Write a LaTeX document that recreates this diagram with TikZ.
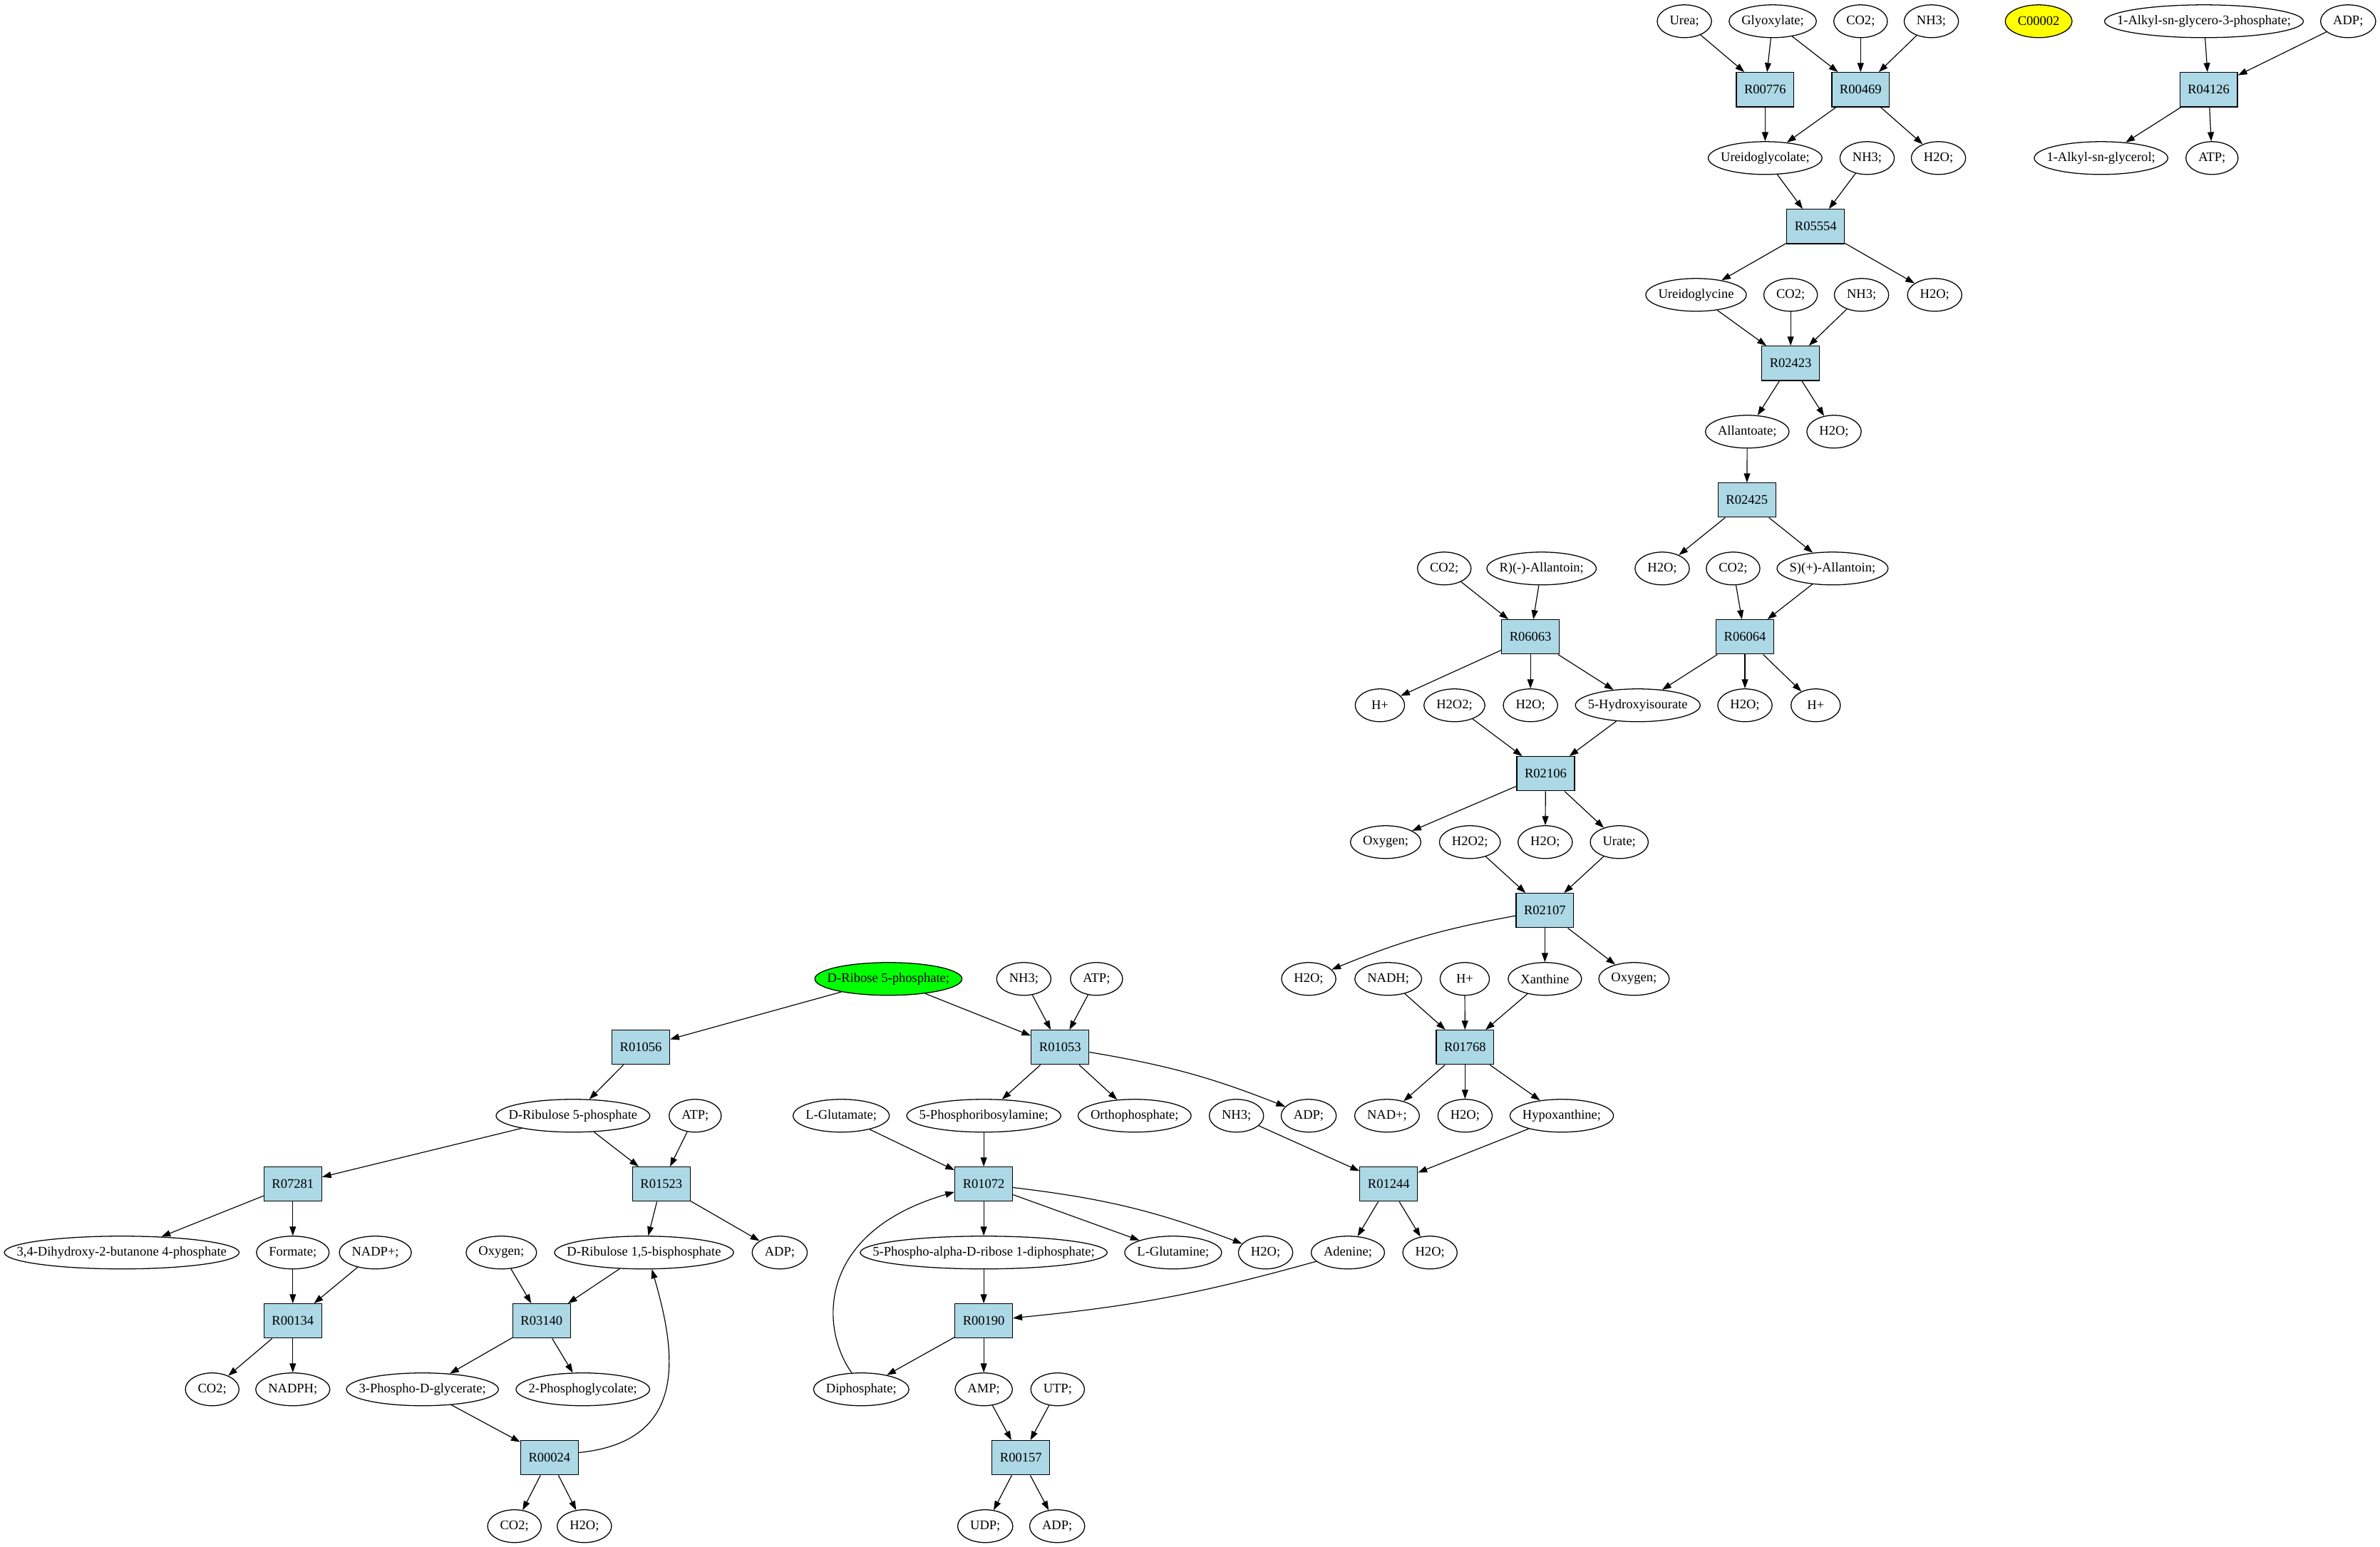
\documentclass[tikz,border=0pt]{standalone}
\usepackage{fontspec}
\setmainfont{Liberation Serif}
\usetikzlibrary{arrows.meta,shapes.geometric}
\definecolor{rxnblue}{HTML}{ADD8E6}
\definecolor{cpdgreen}{HTML}{00FF00}
\definecolor{cpdyellow}{HTML}{FFFF00}
\newcommand\metfont{\fontsize{8.7pt}{10pt}\selectfont}
% compound label: box narrowed by 1/sqrt(2) so that the ellipse hugs the text
\newcommand\cpdtxt[1]{\makebox[0.7071\width]{#1}}
\newcommand\metnode[4][]{\node[cpd,#1] (#2) at (#3) {\cpdtxt{#4}};}
\newcommand\rxn[2]{\node[rxnbox] (#1) at (#2) {#1};}
\begin{document}
\begin{tikzpicture}[x=1pt,y=-1pt,
 cpd/.style={ellipse,draw,line width=0.6pt,inner xsep=5.83pt,inner ysep=0pt,minimum width=32.5pt,minimum height=21.6pt,font=\metfont},
 rxnbox/.style={rectangle,draw,fill=rxnblue,line width=0.6pt,inner sep=0pt,minimum width=38pt,minimum height=22.6pt,font=\metfont},
 conn/.style={line width=0.55pt,-{Triangle[length=6pt,width=4.2pt]}}]
\useasboundingbox (0,0) rectangle (1568,1019.5);
% rank 0
\metnode{urea}{1109.7,14}{Urea;}
\metnode{glyox}{1167.9,14}{Glyoxylate;}
\metnode{co2a}{1225.8,14}{CO2;}
\metnode{nh3a}{1272.4,14}{NH3;}
\metnode[fill=cpdyellow]{c00002}{1343.1,14}{C00002}
\metnode{alkylp}{1452.0,14}{1-Alkyl-sn-glycero-3-phosphate;}
\metnode{adpa}{1547.0,14}{ADP;}
% rank 1
\rxn{R00776}{1162.9,59.08}
\rxn{R00469}{1225.8,59.08}
\rxn{R04126}{1455.1,59.08}
% rank 2
\metnode{ugc}{1162.9,104.16}{Ureidoglycolate;}
\metnode{nh3b}{1230.1,104.16}{NH3;}
\metnode{h2oa}{1277.1,104.16}{H2O;}
\metnode{alkylg}{1384.2,104.16}{1-Alkyl-sn-glycerol;}
\metnode{atpa}{1457.3,104.16}{ATP;}
% rank 3
\rxn{R05554}{1196.2,149.24}
% rank 4
\metnode{ugly}{1117.4,194.32}{Ureidoglycine}
\metnode{co2b}{1179.7,194.32}{CO2;}
\metnode{nh3c}{1226.4,194.32}{NH3;}
\metnode{h2ob}{1274.6,194.32}{H2O;}
% rank 5
\rxn{R02423}{1179.7,239.4}
% rank 6
\metnode{allan}{1151.1,284.48}{Allantoate;}
\metnode{h2oc}{1208.3,284.48}{H2O;}
% rank 7
\rxn{R02425}{1150.9,329.56}
% rank 8
\metnode{co2c}{951.5,374.64}{CO2;}
\metnode{rall}{1015.6,374.64}{R)(-)-Allantoin;}
\metnode{h2od}{1095.1,374.64}{H2O;}
\metnode{co2d}{1141.8,374.64}{CO2;}
\metnode{sall}{1207.3,374.64}{S)(+)-Allantoin;}
% rank 9
\rxn{R06063}{1008.3,419.72}
\rxn{R06064}{1149.6,419.72}
% rank 10
\metnode{hpa}{909.1,464.8}{H+}
\metnode{h2o2a}{958.2,464.8}{H2O2;}
\metnode{h2oe}{1008.3,464.8}{H2O;}
\metnode{hiu}{1079.0,464.8}{5-Hydroxyisourate}
\metnode{h2of}{1149.6,464.8}{H2O;}
\metnode{hpb}{1196.2,464.8}{H+}
% rank 11
\rxn{R02106}{1018.3,509.88}
% rank 12
\metnode{oxya}{912.9,554.96}{Oxygen;}
\metnode{h2o2b}{968.4,554.96}{H2O2;}
\metnode{h2og}{1018.0,554.96}{H2O;}
\metnode{urate}{1066.8,554.96}{Urate;}
% rank 13
\rxn{R02107}{1017.8,600.04}
% rank 14
\metnode[fill=cpdgreen]{ribose}{585.3,645.12}{D-Ribose 5-phosphate;}
\metnode{nh3d}{674.5,645.12}{NH3;}
\metnode{atpb}{722.4,645.12}{ATP;}
\metnode{h2oh}{862.2,645.12}{H2O;}
\metnode{nadh}{914.6,645.12}{NADH;}
\metnode{hpc}{965.0,645.12}{H+}
\metnode{xan}{1017.8,645.12}{Xanthine}
\metnode{oxyb}{1076.5,645.12}{Oxygen;}
% rank 15
\rxn{R01056}{422.2,690.2}
\rxn{R01053}{698.4,690.2}
\rxn{R01768}{965.2,690.2}
% rank 16
\metnode{ru5p}{377.5,735.28}{D-Ribulose 5-phosphate}
\metnode{atpc}{458.0,735.28}{ATP;}
\metnode{lglu}{554.2,735.28}{L-Glutamate;}
\metnode{pra}{648.1,735.28}{5-Phosphoribosylamine;}
\metnode{ortho}{747.5,735.28}{Orthophosphate;}
\metnode{nh3e}{814.6,735.28}{NH3;}
\metnode{adpb}{862.2,735.28}{ADP;}
\metnode{nadp}{913.8,735.28}{NAD+;}
\metnode{h2oi}{965.2,735.28}{H2O;}
\metnode{hypox}{1028.9,735.28}{Hypoxanthine;}
% rank 17
\rxn{R07281}{192.9,780.36}
\rxn{R01523}{435.7,780.36}
\rxn{R01072}{648.1,780.36}
\rxn{R01244}{914.9,780.36}
% rank 18
\metnode{dhbp}{80.2,825.44}{3,4-Dihydroxy-2-butanone 4-phosphate}
\metnode{formate}{192.9,825.44}{Formate;}
\metnode{nadpp}{247.3,825.44}{NADP+;}
\metnode{oxyc}{330.3,825.44}{Oxygen;}
\metnode{rubp}{424.3,825.44}{D-Ribulose 1,5-bisphosphate}
\metnode{adpc}{513.7,825.44}{ADP;}
\metnode{prpp}{648.1,825.44}{5-Phospho-alpha-D-ribose 1-diphosphate;}
\metnode{lgln}{772.9,825.44}{L-Glutamine;}
\metnode{h2oj}{833.8,825.44}{H2O;}
\metnode{aden}{888.0,825.44}{Adenine;}
\metnode{h2ok}{942.1,825.44}{H2O;}
% rank 19
\rxn{R00134}{192.9,870.52}
\rxn{R03140}{356.8,870.52}
\rxn{R00190}{648.1,870.52}
% rank 20
\metnode{co2e}{139.8,915.6}{CO2;}
\metnode{nadph}{192.9,915.6}{NADPH;}
\metnode{pga}{278.3,915.6}{3-Phospho-D-glycerate;}
\metnode{pgly}{384.0,915.6}{2-Phosphoglycolate;}
\metnode{diphos}{567.4,915.6}{Diphosphate;}
\metnode{amp}{648.1,915.6}{AMP;}
\metnode{utp}{696.8,915.6}{UTP;}
% rank 21
\rxn{R00024}{362.0,960.68}
\rxn{R00157}{672.6,960.68}
% rank 22
\metnode{co2f}{338.9,1005.76}{CO2;}
\metnode{h2ol}{385.0,1005.76}{H2O;}
\metnode{udp}{649.1,1005.76}{UDP;}
\metnode{adpd}{696.5,1005.76}{ADP;}
% ---------------- edges
\draw[conn] (urea) -- (R00776);
\draw[conn] (glyox) -- (R00776);
\draw[conn] (R00776) -- (ugc);
\draw[conn] (glyox) -- (R00469);
\draw[conn] (co2a) -- (R00469);
\draw[conn] (nh3a) -- (R00469);
\draw[conn] (R00469) -- (ugc);
\draw[conn] (R00469) -- (h2oa);
\draw[conn] (alkylp) -- (R04126);
\draw[conn] (adpa) -- (R04126);
\draw[conn] (R04126) -- (alkylg);
\draw[conn] (R04126) -- (atpa);
\draw[conn] (ugc) -- (R05554);
\draw[conn] (nh3b) -- (R05554);
\draw[conn] (R05554) -- (ugly);
\draw[conn] (R05554) -- (h2ob);
\draw[conn] (ugly) -- (R02423);
\draw[conn] (co2b) -- (R02423);
\draw[conn] (nh3c) -- (R02423);
\draw[conn] (R02423) -- (allan);
\draw[conn] (R02423) -- (h2oc);
\draw[conn] (allan) -- (R02425);
\draw[conn] (R02425) -- (h2od);
\draw[conn] (R02425) -- (sall);
\draw[conn] (co2c) -- (R06063);
\draw[conn] (rall) -- (R06063);
\draw[conn] (R06063) -- (hpa);
\draw[conn] (R06063) -- (h2oe);
\draw[conn] (R06063) -- (hiu);
\draw[conn] (co2d) -- (R06064);
\draw[conn] (sall) -- (R06064);
\draw[conn] (R06064) -- (hiu);
\draw[conn] (R06064) -- (h2of);
\draw[conn] (R06064) -- (hpb);
\draw[conn] (h2o2a) -- (R02106);
\draw[conn] (hiu) -- (R02106);
\draw[conn] (R02106) -- (oxya);
\draw[conn] (R02106) -- (h2og);
\draw[conn] (R02106) -- (urate);
\draw[conn] (h2o2b) -- (R02107);
\draw[conn] (urate) -- (R02107);
\draw[conn] (R02107) to[bend right=6] (h2oh);
\draw[conn] (R02107) -- (xan);
\draw[conn] (R02107) -- (oxyb);
\draw[conn] (nadh) -- (R01768);
\draw[conn] (hpc) -- (R01768);
\draw[conn] (xan) -- (R01768);
\draw[conn] (R01768) -- (nadp);
\draw[conn] (R01768) -- (h2oi);
\draw[conn] (R01768) -- (hypox);
\draw[conn] (nh3e) -- (R01244);
\draw[conn] (hypox) -- (R01244);
\draw[conn] (R01244) -- (aden);
\draw[conn] (R01244) -- (h2ok);
\draw[conn] (ribose) -- (R01053);
\draw[conn] (nh3d) -- (R01053);
\draw[conn] (atpb) -- (R01053);
\draw[conn] (R01053) -- (pra);
\draw[conn] (R01053) -- (ortho);
\draw[conn] (R01053) to[bend left=6] (adpb);
\draw[conn] (ribose) -- (R01056);
\draw[conn] (R01056) -- (ru5p);
\draw[conn] (lglu) -- (R01072);
\draw[conn] (pra) -- (R01072);
\draw[conn] (diphos.120) .. controls (540,875) and (538,812) .. (R01072.195);
\draw[conn] (R01072) -- (prpp);
\draw[conn] (R01072) -- (lgln);
\draw[conn] (R01072) to[bend left=7] (h2oj);
\draw[conn] (prpp) -- (R00190);
\draw[conn] (aden) to[bend left=5] (R00190);
\draw[conn] (R00190) -- (diphos);
\draw[conn] (R00190) -- (amp);
\draw[conn] (amp) -- (R00157);
\draw[conn] (utp) -- (R00157);
\draw[conn] (R00157) -- (udp);
\draw[conn] (R00157) -- (adpd);
\draw[conn] (ru5p) -- (R07281);
\draw[conn] (R07281) -- (dhbp);
\draw[conn] (R07281) -- (formate);
\draw[conn] (ru5p) -- (R01523);
\draw[conn] (atpc) -- (R01523);
\draw[conn] (R01523) -- (rubp);
\draw[conn] (R01523) -- (adpc);
\draw[conn] (formate) -- (R00134);
\draw[conn] (nadpp) -- (R00134);
\draw[conn] (R00134) -- (co2e);
\draw[conn] (R00134) -- (nadph);
\draw[conn] (oxyc) -- (R03140);
\draw[conn] (rubp) -- (R03140);
\draw[conn] (R03140) -- (pga);
\draw[conn] (R03140) -- (pgly);
\draw[conn] (pga) -- (R00024);
\draw[conn] (R00024) -- (co2f);
\draw[conn] (R00024) -- (h2ol);
\draw[conn] (R00024.10) .. controls (455,950) and (445,890) .. (rubp.-65);
\end{tikzpicture}
\end{document}
